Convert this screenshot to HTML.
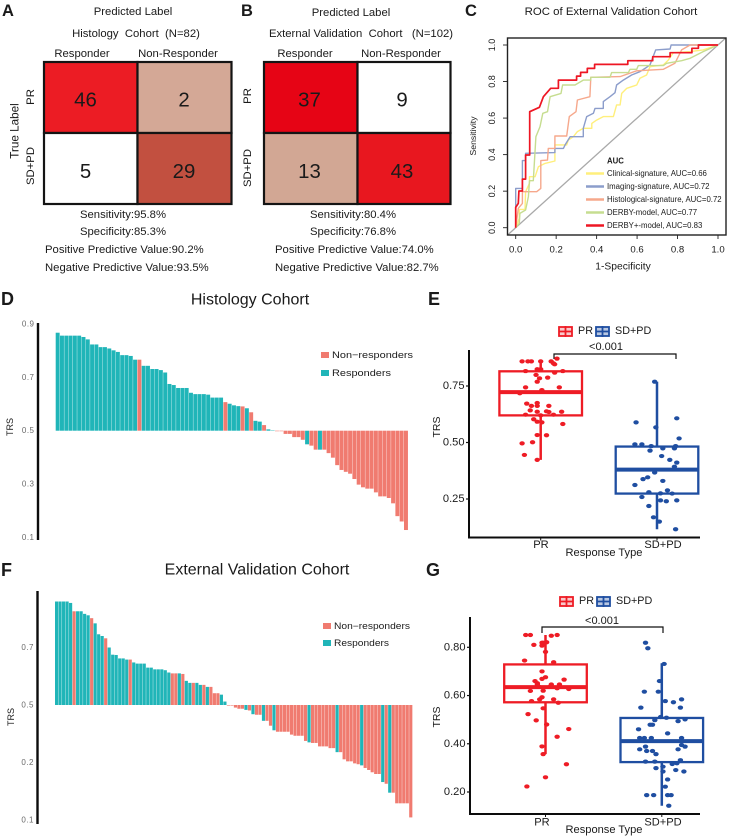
<!DOCTYPE html>
<html lang="en">
<head>
<meta charset="utf-8">
<title>Treatment response figure</title>
<style>
html,body{margin:0;padding:0;background:#fff;width:736px;height:837px;overflow:hidden}
svg{display:block;font-family:"Liberation Sans",Arial,sans-serif}
text{fill:#1a1a1a}
.c{text-anchor:middle;dominant-baseline:central}
.l{dominant-baseline:central}
.letter{font-weight:bold}
</style>
</head>
<body>
<svg id="figure" width="736" height="837" viewBox="0 0 736 837" xmlns="http://www.w3.org/2000/svg">

<g id="panelA">
  <text class="letter" x="2" y="16" font-size="16.5">A</text>
  <text class="c" x="133" y="12" font-size="11.3">Predicted Label</text>
  <text class="c" x="136" y="34" font-size="11.3" xml:space="preserve">Histology  Cohort  (N=82)</text>
  <text class="c" x="82" y="54" font-size="11.3">Responder</text>
  <text class="c" x="178" y="54" font-size="11.3">Non-Responder</text>
  <text class="c" transform="translate(31,97) rotate(-90)" font-size="11.3">PR</text>
  <text class="c" transform="translate(31,166) rotate(-90)" font-size="11.3">SD+PD</text>
  <text class="c" transform="translate(15,131) rotate(-90)" font-size="11.7">True Label</text>
  <text class="c" x="123" y="215" font-size="11.3">Sensitivity:95.8%</text>
  <text class="c" x="123" y="232" font-size="11.3">Specificity:85.3%</text>
  <text class="l" x="45" y="250" font-size="11.3">Positive Predictive Value:90.2%</text>
  <text class="l" x="45" y="268" font-size="11.3">Negative Predictive Value:93.5%</text>
</g>

<g id="panelB">
  <text class="letter" x="241" y="16" font-size="16.5">B</text>
  <text class="c" x="351" y="13" font-size="11.3">Predicted Label</text>
  <text class="c" x="361" y="34" font-size="11.3" xml:space="preserve">External Validation  Cohort   (N=102)</text>
  <text class="c" x="305" y="54" font-size="11.3">Responder</text>
  <text class="c" x="401" y="54" font-size="11.3">Non-Responder</text>
  <text class="c" transform="translate(248,96) rotate(-90)" font-size="11.3">PR</text>
  <text class="c" transform="translate(248,168) rotate(-90)" font-size="11.3">SD+PD</text>
  <text class="c" x="353" y="215" font-size="11.3">Sensitivity:80.4%</text>
  <text class="c" x="353" y="232" font-size="11.3">Specificity:76.8%</text>
  <text class="l" x="275" y="250" font-size="11.3">Positive Predictive Value:74.0%</text>
  <text class="l" x="275" y="268" font-size="11.3">Negative Predictive Value:82.7%</text>
</g>

<g id="panelC">
  <text class="letter" x="465" y="16" font-size="16.5">C</text>
  <text class="c" x="611" y="12" font-size="11.4">ROC of External Validation Cohort</text>
  <text class="c" transform="translate(473,136) rotate(-90)" font-size="8.7">Sensitivity</text>
  <text class="c" x="623" y="267" font-size="10.3">1-Specificity</text>
  <text class="l" x="607" y="161" font-size="7.8" font-weight="bold">AUC</text>
</g>

<g id="panelD">
  <text class="letter" x="1" y="305" font-size="18">D</text>
  <text class="c" x="250" y="300" font-size="16">Histology Cohort</text>
  <text class="c" transform="translate(10,427) rotate(-90)" font-size="9">TRS</text>
  <rect x="321" y="352" width="8" height="6" fill="#F07B70"/>
  <text class="l" x="332" y="355" font-size="9.2" textLength="81" lengthAdjust="spacingAndGlyphs">Non−responders</text>
  <rect x="321" y="370" width="8" height="6" fill="#20B5B8"/>
  <text class="l" x="332" y="373" font-size="9.2" textLength="59" lengthAdjust="spacingAndGlyphs">Responders</text>
</g>

<g id="panelE">
  <text class="letter" x="428" y="305" font-size="18">E</text>
  <text class="c" transform="translate(437,427) rotate(-90)" font-size="10.5">TRS</text>
  <text class="c" x="604" y="553" font-size="11.1">Response Type</text>
  <text class="c" x="606" y="347" font-size="11">&lt;0.001</text>
  <path d="M554 359V354H676V359" fill="none" stroke="#111" stroke-width="1.2"/>
  <g>
    <rect x="559" y="327" width="13" height="9" fill="#f9c9cb" stroke="#EE1C25" stroke-width="1.8"/>
    <path d="M559 331.5H572M565.5 326V337" stroke="#EE1C25" stroke-width="1.8"/>
    <text class="l" x="578" y="331" font-size="10.8">PR</text>
    <rect x="596" y="327" width="13" height="9" fill="#b9c8e2" stroke="#1F4EA1" stroke-width="1.8"/>
    <path d="M596 331.5H609M602.5 326V337" stroke="#1F4EA1" stroke-width="1.8"/>
    <text class="l" x="615" y="331" font-size="10.8">SD+PD</text>
  </g>
</g>

<g id="panelF">
  <text class="letter" x="1" y="576" font-size="18">F</text>
  <text class="c" x="257" y="570" font-size="16">External Validation Cohort</text>
  <text class="c" transform="translate(11,717) rotate(-90)" font-size="9">TRS</text>
  <rect x="323" y="623" width="8" height="6" fill="#F07B70"/>
  <text class="l" x="334" y="626" font-size="9" textLength="76" lengthAdjust="spacingAndGlyphs">Non−responders</text>
  <rect x="323" y="640" width="8" height="6" fill="#20B5B8"/>
  <text class="l" x="334" y="643" font-size="9" textLength="55" lengthAdjust="spacingAndGlyphs">Responders</text>
</g>

<g id="panelG">
  <text class="letter" x="426" y="576" font-size="18">G</text>
  <text class="c" transform="translate(437,717) rotate(-90)" font-size="10.5">TRS</text>
  <text class="c" x="604" y="830" font-size="11.1">Response Type</text>
  <text class="c" x="602" y="621" font-size="11">&lt;0.001</text>
  <path d="M542 633V627H663V633" fill="none" stroke="#111" stroke-width="1.2"/>
  <g>
    <rect x="560" y="597" width="13" height="9" fill="#f9c9cb" stroke="#EE1C25" stroke-width="1.8"/>
    <path d="M560 601.5H573M566.5 596V607" stroke="#EE1C25" stroke-width="1.8"/>
    <text class="l" x="579" y="601" font-size="10.8">PR</text>
    <rect x="597" y="597" width="13" height="9" fill="#b9c8e2" stroke="#1F4EA1" stroke-width="1.8"/>
    <path d="M597 601.5H610M603.5 596V607" stroke="#1F4EA1" stroke-width="1.8"/>
    <text class="l" x="616" y="601" font-size="10.8">SD+PD</text>
  </g>
</g>
</svg>

<script>
// ---------- confusion matrices ----------
const histologyMatrixCounts = [46, 2, 5, 29];
const externalMatrixCounts = [37, 9, 13, 43];
const histologyMatrixFills = ['#EC1C24', '#D4A896', '#FFFFFF', '#C25040'];
const externalMatrixFills = ['#E60415', '#FFFFFF', '#D2A794', '#E8171F'];

// ---------- ROC ----------
const rocTickValues = [0, 0.2, 0.4, 0.6, 0.8, 1];
const rocTickLabels = ['0.0', '0.2', '0.4', '0.6', '0.8', '1.0'];
const rocModelNames = ['Clinical-signature, AUC=0.66', 'Imaging-signature, AUC=0.72', 'Histological-signature, AUC=0.72', 'DERBY-model, AUC=0.77', 'DERBY+-model, AUC=0.83'];
const clinicalFpr = [0,.018,.018,.046,.049,.068,.068,.096,.112,.145,.194,.194,.252,.26,.285,.305,.334,.376,.376,.4,.433,.483,.499,.516,.524,.549,.598,.614,.647,.664,.73,.755,.779,.862,.927,1];
const clinicalTpr = [0,.051,.1,.1,.197,.243,.279,.279,.334,.352,.365,.453,.453,.48,.498,.526,.544,.544,.571,.589,.608,.608,.672,.672,.735,.763,.781,.818,.836,.881,.891,.918,.958,.964,.973,1];
const imagingFpr = [0,0,.033,.033,.049,.049,.194,.194,.236,.244,.269,.334,.334,.351,.384,.392,.433,.433,.466,.491,.499,.532,.573,.614,.639,.664,.692,.763,.768,1];
const imagingTpr = [0,.215,.215,.367,.367,.407,.411,.434,.434,.453,.498,.498,.544,.608,.626,.653,.653,.69,.717,.739,.781,.808,.836,.854,.872,.891,.973,.978,1,1];
const histologicalFpr = [0,.013,.033,.033,.104,.124,.124,.157,.161,.194,.194,.252,.265,.298,.305,.367,.371,.516,.598,.73,.787,.82,.862,1];
const histologicalTpr = [0,.106,.133,.197,.197,.215,.367,.37,.434,.434,.502,.502,.608,.635,.699,.717,.823,.827,.859,.867,.9,.973,1,1];
const derbyFpr = [0,.018,.021,.049,.063,.068,.087,.1,.12,.134,.157,.17,.224,.232,.293,.334,.371,.371,.466,.474,.557,.565,.598,.606,.73,.746,.82,.862,.927,1];
const derbyTpr = [0,.024,.078,.097,.17,.257,.257,.498,.553,.626,.635,.717,.735,.781,.781,.808,.808,.823,.823,.849,.849,.867,.867,.887,.887,.9,.914,.927,.964,1];
const derbyPlusFpr = [0,0,.013,.016,.033,.033,.049,.049,.069,.069,.117,.137,.173,.211,.211,.301,.301,.321,.321,.354,.354,.39,.39,.554,.554,.677,.677,.763,.763,.871,.871,.903,.903,1];
const derbyPlusTpr = [0,.111,.133,.201,.201,.266,.266,.398,.398,.635,.659,.717,.763,.763,.808,.808,.83,.83,.85,.85,.872,.872,.894,.894,.914,.914,.936,.936,.958,.958,.982,.982,1,1];

// ---------- waterfalls ----------
const histologyTrs = [.867,.856,.856,.856,.856,.856,.851,.842,.823,.823,.813,.813,.808,.801,.795,.783,.783,.78,.766,.766,.743,.743,.731,.731,.727,.718,.675,.671,.66,.66,.66,.642,.637,.637,.637,.635,
  .624,.624,.624,.607,.601,.595,.592,.591,.584,.569,.537,.534,.521,.505,.501,.498,.498,.488,.488,.476,.476,.466,.449,.444,.429,.429,.429,.416,.399,.371,.353,.346,.339,.319,.298,.288,.283,.283,.269,.254,.254,.248,.228,.18,.16,.128];
const histologyOutcome = ('RRRRRRRRRR'+'RRRRRRRRRN'+'RRRRRRRRRR'+'RRRRRRRRRN'+'RRRNRNRRNR'+'RNNNNNNNRN'+'NRNNNNNNNN'+'NNNNNNNNNNNN').split('');
const histologyTickValues = [.9, .7, .5, .3, .1];
const histologyTickLabels = ['0.9', '0.7', '0.5', '0.3', '0.1'];

const externalTrs = [.86,.86,.86,.86,.855,.826,.826,.826,.817,.812,.802,.784,.746,.74,.732,.7,.675,.674,.662,.662,.658,.658,.648,.644,.644,.644,.63,.63,.624,.624,.624,.621,.613,.61,.61,.61,.608,.584,.577,.577,.577,.57,.57,.563,.563,.541,.541,.536,.512,
  .498,.498,.491,.487,.487,.483,.481,.468,.466,.466,.445,.445,.428,.412,.407,.407,.407,.407,.397,.393,.393,.393,.375,.37,.368,.368,.356,.356,.356,.35,.35,.336,.336,.311,.304,.304,.297,.294,.29,.281,.274,.266,.26,.26,.232,.226,.195,.195,.158,.158,.158,.158,.109];
const externalOutcome = ('RRRRRNRRRR'+'NRRRNRRRRR'+'RNRRRRRRRR'+'RRRNNRNRRN'+'RRNRNNNRRN'+'NNNNRNRNNR'+'NNRNNNNNNN'+'NNRNNNNNNN'+'RNNNNNNRNN'+'NNNRNRNNNNNN').split('');
const externalTickValues = [.7, .5, .3, .1];
const externalTickLabels = ['0.7', '0.5', '0.2', '0.1'];

// ---------- boxplots: whisker-low, q1, median, q3, whisker-high ----------
const boxCategories = ['PR', 'SD+PD'];
const histologyPrBox = [.423, .62, .723, .815, .859];
const histologySdBox = [.116, .274, .38, .482, .769];
const histologyPrValues = [.859,.859,.859,.859,.859,.871,.85,.846,.816,.824,.824,.816,.809,.799,.787,.784,.769,.744,.744,.732,.718,.672,.675,.662,.662,.662,.642,.636,.638,.635,.636,.623,.62,.623,.603,.592,.589,.582,.533,.532,.496,.501,.445,.423];
const histologyPrJitter = [-.16,-.11,-.08,0,.09,.14,.11,.12,-.13,-.03,0,.19,.12,-.04,.06,-.01,-.03,-.13,.16,.01,-.18,-.12,-.03,-.08,-.03,.07,-.09,-.03,.05,.07,.18,-.13,0,.11,-.06,-.03,.01,.19,-.03,.05,-.16,-.07,-.14,-.03];
const histologySdValues = [.769,.589,.607,.567,.518,.492,.492,.484,.464,.474,.484,.474,.44,.423,.411,.393,.367,.346,.338,.33,.312,.28,.288,.275,.274,.259,.244,.24,.244,.219,.169,.15,.116];
const histologySdJitter = [-.02,-.18,.17,-.01,.19,-.19,-.13,-.05,-.06,.05,.16,.15,.04,.11,.17,.15,-.02,-.08,-.12,.05,-.19,-.07,.09,.03,.13,-.13,.03,.08,.17,-.07,-.03,.02,.16];
const externalPrBox = [.357, .572, .635, .729, .851];
const externalSdBox = [.143, .324, .411, .507, .734];
const externalPrValues = [.851,.851,.848,.851,.81,.807,.819,.821,.819,.781,.745,.738,.70,.676,.669,.66,.666,.651,.637,.646,.646,.619,.62,.63,.627,.577,.584,.593,.584,.57,.547,.523,.497,.48,.461,.429,.389,.357,.315,.261,.223,.637,.646];
const externalPrJitter = [-.17,-.13,.05,.10,-.10,-.03,-.02,.01,-.03,0,-.18,.07,-.03,0,-.03,-.09,.16,-.07,-.06,.05,.12,-.13,-.02,.10,.2,-.12,-.05,-.03,.07,.11,-.02,-.15,-.08,.01,.2,.10,-.03,-.02,.18,0,-.16,.04,-.07];
const externalSdValues = [.819,.796,.731,.66,.616,.616,.577,.572,.584,.55,.55,.511,.508,.498,.494,.501,.479,.479,.46,.443,.424,.424,.424,.424,.388,.395,.388,.377,.37,.37,.377,.357,.326,.326,.332,.316,.319,.299,.305,.285,.291,.285,.252,.222,.187,.187,.187,.187,.143];
const externalSdJitter = [-.14,-.12,.02,-.02,-.15,-.03,.03,.10,.17,-.18,.16,-.01,.04,-.06,.14,.2,-.10,-.08,-.2,.05,-.19,-.15,-.09,.17,-.14,.17,.2,-.19,-.13,-.08,.14,-.05,-.14,-.06,.16,.09,.13,-.05,.01,.01,.12,.19,.05,.03,-.13,-.07,.05,.08,.06];
const histologyBoxTicks = [.75, .5, .25];
const histologyBoxTickLabels = ['0.75', '0.50', '0.25'];
const externalBoxTicks = [.8, .6, .4, .2];
const externalBoxTickLabels = ['0.80', '0.60', '0.40', '0.20'];

// ---------- helpers ----------
const NS = 'http://www.w3.org/2000/svg';
function add(tag, parent, props) {
  const el = document.createElementNS(NS, tag);
  for (const k in props) el.setAttribute(k, props[k]);
  parent.appendChild(el);
  return el;
}
function linear(d0, d1, r0, r1) {
  return v => r0 + (v - d0) * (r1 - r0) / (d1 - d0);
}
const panel = id => document.getElementById(id);

// ---------- confusion matrix ----------
function drawMatrix(group, counts, fills, left, midX, right, leftLabelX, rightLabelX) {
  const top = 62, midY = 133, bottom = 204;
  const xEdges = [left, midX, right];
  const yEdges = [top, midY, bottom];
  const labelX = [leftLabelX, rightLabelX];
  const labelY = [100.5, 172];
  counts.forEach((count, i) => {
    const col = i % 2, row = Math.floor(i / 2);
    const cell = add('rect', group, {
      x: xEdges[col], y: yEdges[row],
      width: xEdges[col + 1] - xEdges[col], height: yEdges[row + 1] - yEdges[row],
      fill: fills[i], stroke: '#141414', 'stroke-width': 2.2
    });
    
    
    const label = add('text', group, { class: 'c', x: labelX[col], y: labelY[row], 'font-size': 20.4 });
    label.textContent = count;
    
    
  });
}
drawMatrix(panel('panelA'), histologyMatrixCounts, histologyMatrixFills, 44, 137.5, 231.5, 85.5, 184);
drawMatrix(panel('panelB'), externalMatrixCounts, externalMatrixFills, 264, 357.5, 450.5, 309.5, 402);

// ---------- ROC ----------
(function () {
  const g = panel('panelC');
  const x = linear(0, 1, 515.7, 718);
  const y = linear(0, 1, 227.7, 45);
  const clip = add('clipPath', g, { id: 'rocClip' });
  add('rect', clip, { x: 507, y: 38, width: 219, height: 197 });

  const diagonal = add('line', g, {
    x1: x(-0.04), y1: y(-0.04), x2: x(1.04), y2: y(1.04),
    stroke: '#A9A9A9', 'stroke-width': 1.3, 'clip-path': 'url(#rocClip)'
  });
  
  

  const xSeries = [clinicalFpr, imagingFpr, histologicalFpr, derbyFpr, derbyPlusFpr];
  const ySeries = [clinicalTpr, imagingTpr, histologicalTpr, derbyTpr, derbyPlusTpr];
  const colours = ['#FFEF7C', '#8C9DCB', '#F6A88C', '#C6DD90', '#EE1623'];
  const widths = [1.4, 1.4, 1.4, 1.4, 1.7];
  xSeries.forEach((fpr, s) => {
    const pts = fpr.map((f, i) => x(f).toFixed(1) + ',' + y(ySeries[s][i]).toFixed(1)).join(' ');
    const line = add('polyline', g, {
      points: pts, fill: 'none', stroke: colours[s], 'stroke-width': widths[s], 'stroke-linejoin': 'round'
    });
    
    
  });

  const frame = add('rect', g, { x: 507.5, y: 38, width: 218.5, height: 197, fill: 'none', stroke: '#222', 'stroke-width': 1.4 });
  
  

  rocTickValues.forEach((t, i) => {
    const xTick = add('line', g, { x1: x(t), x2: x(t), y1: 235, y2: 239, stroke: '#222', 'stroke-width': 0.9 });
    
    
    const xLabel = add('text', g, { class: 'c', x: x(t), y: 250, 'font-size': 9.6 });
    xLabel.textContent = rocTickLabels[i];
    
    
    const yTick = add('line', g, { x1: 503, x2: 507, y1: y(t), y2: y(t), stroke: '#222', 'stroke-width': 0.9 });
    
    
    const yLabel = add('text', g, { class: 'c', transform: 'translate(492,' + y(t) + ') rotate(-90)', 'font-size': 9 });
    yLabel.textContent = rocTickLabels[i];
    
    
  });

  rocModelNames.forEach((name, i) => {
    const rowY = 173.5 + i * 13;
    const key = add('line', g, { x1: 586, x2: 604, y1: rowY, y2: rowY, stroke: colours[i], 'stroke-width': 2.4 });
    
    
    const label = add('text', g, { class: 'l', x: 607, y: rowY, 'font-size': 7.8 });
    label.textContent = name;
    
    
  });
})();

// ---------- waterfall ----------
function drawWaterfall(group, scores, outcome, opts) {
  const y = linear(0.5, 0.9, opts.base, opts.base - 0.4 * opts.pxPerUnit);
  const step = (opts.right - opts.left) / scores.length;
  scores.forEach((v, i) => {
    const y0 = y(0.5), y1 = y(v);
    const bar = add('rect', group, {
      x: opts.left + i * step, y: Math.min(y0, y1), width: step - 0.35,
      height: Math.max(Math.abs(y1 - y0), 0.4),
      fill: outcome[i] === 'R' ? '#20B5B8' : '#F07B70'
    });
    
    
  });
  const axis = add('line', group, { x1: opts.axisX, x2: opts.axisX, y1: opts.axisTop, y2: opts.axisBottom, stroke: '#0c0c0c', 'stroke-width': 2.4 });
  
  
  opts.ticks.forEach((t, i) => {
    const label = add('text', group, {
      class: 'l', x: opts.axisX - 3.5, y: y(t), 'text-anchor': 'end', 'font-size': 8, 'letter-spacing': 0.5, style: 'fill:#6a6a6a'
    });
    label.textContent = opts.labels[i];
    
    
  });
}
drawWaterfall(panel('panelD'), histologyTrs, histologyOutcome, {
  left: 55.7, right: 408.3, base: 430.7, pxPerUnit: 267, axisX: 38, axisTop: 323, axisBottom: 540,
  ticks: histologyTickValues, labels: histologyTickLabels
});
drawWaterfall(panel('panelF'), externalTrs, externalOutcome, {
  left: 55, right: 412.7, base: 705, pxPerUnit: 287.5, axisX: 37.5, axisTop: 591, axisBottom: 824,
  ticks: externalTickValues, labels: externalTickLabels
});

// ---------- boxplot ----------
function drawBoxplot(group, opts) {
  const y = opts.y;
  const catX = i => opts.firstX + i * opts.step;
  const halfBox = 41.3;
  opts.boxes.forEach((stats, c) => {
    const colour = opts.colours[c], cx = catX(c);
    const whisker = add('line', group, { x1: cx, x2: cx, y1: y(stats[0]), y2: y(stats[4]), stroke: colour, 'stroke-width': 2.5 });
    
    
    const box = add('rect', group, {
      x: cx - halfBox, y: y(stats[3]), width: 2 * halfBox, height: y(stats[1]) - y(stats[3]),
      fill: '#fff', stroke: colour, 'stroke-width': 2.3
    });
    
    
    const median = add('line', group, { x1: cx - halfBox, x2: cx + halfBox, y1: y(stats[2]), y2: y(stats[2]), stroke: colour, 'stroke-width': 4 });
    
    
    opts.values[c].forEach((v, i) => {
      const dot = add('ellipse', group, { cx: cx + opts.jitter[c][i] * opts.step, cy: y(v), rx: 2.7, ry: 2.1, fill: colour });
      
      
    });
    const tick = add('line', group, { x1: cx, x2: cx, y1: opts.bottom, y2: opts.bottom + 3, stroke: '#111', 'stroke-width': 1 });
    
    
    const label = add('text', group, { class: 'c', x: opts.labelX[c], y: opts.labelY, 'font-size': 11.1 });
    label.textContent = boxCategories[c];
    
    
  });
  const axes = add('path', group, {
    d: 'M' + opts.axisX + ' ' + opts.top + 'V' + opts.bottom + 'H700', fill: 'none', stroke: '#0c0c0c', 'stroke-width': 2
  });
  
  
  opts.ticks.forEach((t, i) => {
    const tick = add('line', group, { x1: opts.axisX - 3, x2: opts.axisX, y1: y(t), y2: y(t), stroke: '#111', 'stroke-width': 1.2 });
    
    
    const label = add('text', group, { class: 'l', x: opts.axisX - 4.5, y: y(t), 'text-anchor': 'end', 'font-size': 11.1 });
    label.textContent = opts.tickLabels[i];
    
    
  });
}
drawBoxplot(panel('panelE'), {
  y: linear(0.75, 0.25, 386, 499), firstX: 540.7, step: 116.3, axisX: 469, top: 350, bottom: 537.5,
  labelX: [541, 663], labelY: 545,
  boxes: [histologyPrBox, histologySdBox], colours: ['#EE1C25', '#1F4EA1'],
  values: [histologyPrValues, histologySdValues], jitter: [histologyPrJitter, histologySdJitter],
  ticks: histologyBoxTicks, tickLabels: histologyBoxTickLabels
});
drawBoxplot(panel('panelG'), {
  y: linear(0.8, 0.2, 647.3, 792), firstX: 545.5, step: 116.3, axisX: 470, top: 617, bottom: 814,
  labelX: [542, 663], labelY: 822.5,
  boxes: [externalPrBox, externalSdBox], colours: ['#EE1C25', '#1F4EA1'],
  values: [externalPrValues, externalSdValues], jitter: [externalPrJitter, externalSdJitter],
  ticks: externalBoxTicks, tickLabels: externalBoxTickLabels
});
</script>
</body>
</html>
